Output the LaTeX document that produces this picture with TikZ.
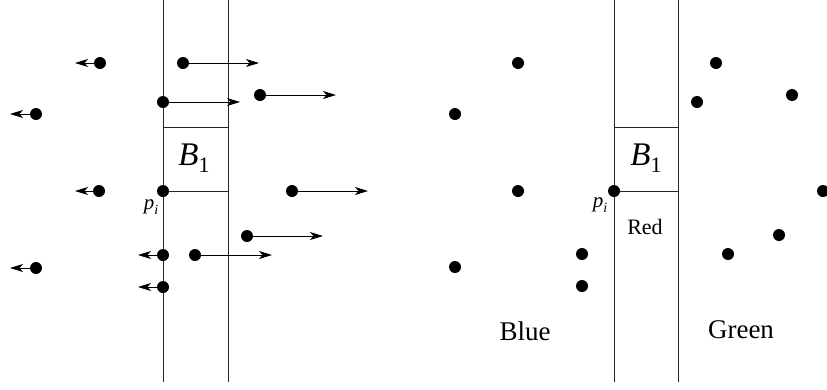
\documentclass[tikz,border=0pt]{standalone}
\usepackage{fontspec}
\setmainfont{Liberation Serif}
\usetikzlibrary{arrows.meta}
\begin{document}
\begin{tikzpicture}[x=1pt,y=-1pt,
  ln/.style={line width=0.9pt, draw=black!85},
  dot/.style={circle, fill=black, minimum size=12pt, inner sep=0pt},
  arr/.style={line width=0.9pt, -{Stealth[length=13pt,width=8pt,inset=3.5pt]}},
  bigtxt/.style={font=\fontsize{27}{30}\selectfont, inner sep=0pt},
  redtxt/.style={font=\fontsize{22}{24}\selectfont, inner sep=0pt},
  blab/.style={font=\fontsize{33}{36}\selectfont, inner sep=0pt},
  plab/.style={font=\fontsize{21}{24}\selectfont, inner sep=0pt}]
\useasboundingbox (0,0) rectangle (827,389);
% ---------- left panel ----------
\coordinate (LTa) at (163,0); \coordinate (LBa) at (163,382);
\coordinate (LTb) at (228,0); \coordinate (LBb) at (228,382);
\draw[ln] (LTa) -- (LBa);
\draw[ln] (LTb) -- (LBb);
\coordinate (Lh1a) at (163,127); \coordinate (Lh1b) at (228,127);
\coordinate (Lh2a) at (163,191); \coordinate (Lh2b) at (228,191);
\draw[ln] (Lh1a) -- (Lh1b);
\draw[ln] (Lh2a) -- (Lh2b);
\node[blab] (LB) at (194,158) {\textit{B}\raisebox{-0.22em}{\fontsize{22}{22}\selectfont 1}};
\node[plab] (Lp) at (151,207) {\textit{p}\raisebox{-0.25em}{\fontsize{14}{14}\selectfont\textit{i}}};

\node[dot] (a1) at (100,63) {};   \coordinate (a1e) at (75,63);
\node[dot] (a2) at (183,63) {};   \coordinate (a2e) at (259,63);
\node[dot] (a3) at (163,102) {};  \coordinate (a3e) at (240,102);
\node[dot] (a4) at (260,95) {};   \coordinate (a4e) at (336,95);
\node[dot] (a5) at (36,114) {};   \coordinate (a5e) at (10,114);
\node[dot] (a6) at (99,191) {};   \coordinate (a6e) at (75,191);
\node[dot] (a7) at (163,191) {};
\node[dot] (a8) at (292,191) {};  \coordinate (a8e) at (368,191);
\node[dot] (a9) at (247,236) {};  \coordinate (a9e) at (323,236);
\node[dot] (a10) at (163,255) {}; \coordinate (a10e) at (138,255);
\node[dot] (a11) at (195,255) {}; \coordinate (a11e) at (272,255);
\node[dot] (a12) at (36,268) {};  \coordinate (a12e) at (10,268);
\node[dot] (a13) at (163,287) {}; \coordinate (a13e) at (138,287);
\foreach \n in {a1,a2,a3,a4,a5,a6,a8,a9,a10,a11,a12,a13}
  \draw[arr] (\n.center) -- (\n e);

% ---------- right panel ----------
\coordinate (RTa) at (614,0); \coordinate (RBa) at (614,382);
\coordinate (RTb) at (678,0); \coordinate (RBb) at (678,382);
\draw[ln] (RTa) -- (RBa);
\draw[ln] (RTb) -- (RBb);
\coordinate (Rh1a) at (614,127); \coordinate (Rh1b) at (678,127);
\coordinate (Rh2a) at (614,191); \coordinate (Rh2b) at (678,191);
\draw[ln] (Rh1a) -- (Rh1b);
\draw[ln] (Rh2a) -- (Rh2b);
\node[blab] (RB) at (646,158) {\textit{B}\raisebox{-0.22em}{\fontsize{22}{22}\selectfont 1}};
\node[plab] (Rp) at (600,205) {\textit{p}\raisebox{-0.25em}{\fontsize{14}{14}\selectfont\textit{i}}};
\node[redtxt] (Red) at (645,227) {Red};
\node[bigtxt] (Blue) at (525,331) {Blue};
\node[bigtxt] (Green) at (741,330) {Green};

\node[dot] (b1) at (518,63) {};
\node[dot] (b2) at (455,114) {};
\node[dot] (b3) at (518,191) {};
\node[dot] (b4) at (614,191) {};
\node[dot] (b5) at (455,267) {};
\node[dot] (b6) at (582,254) {};
\node[dot] (b7) at (582,286) {};
\node[dot] (c1) at (716,63) {};
\node[dot] (c2) at (697,102) {};
\node[dot] (c3) at (792,95) {};
\node[dot] (c4) at (823,191) {};
\node[dot] (c5) at (728,254) {};
\node[dot] (c6) at (779,235) {};
\end{tikzpicture}
\end{document}
